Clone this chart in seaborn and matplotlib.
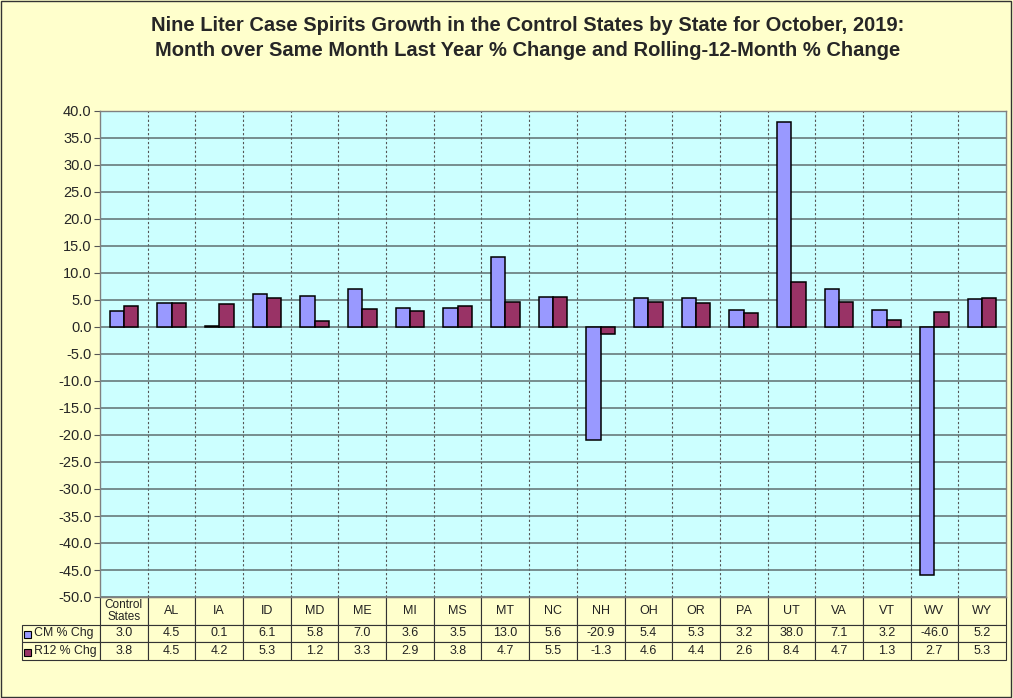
import pandas as pd
import seaborn as sns
import matplotlib.pyplot as plt
from matplotlib.patches import Rectangle

# data
states = ["Control\nStates", "AL", "IA", "ID", "MD", "ME", "MI", "MS", "MT", "NC",
          "NH", "OH", "OR", "PA", "UT", "VA", "VT", "WV", "WY"]
cm_chg = [3.0, 4.5, 0.1, 6.1, 5.8, 7.0, 3.6, 3.5, 13.0, 5.6,
          -20.9, 5.4, 5.3, 3.2, 38.0, 7.1, 3.2, -46.0, 5.2]
r12_chg = [3.8, 4.5, 4.2, 5.3, 1.2, 3.3, 2.9, 3.8, 4.7, 5.5,
           -1.3, 4.6, 4.4, 2.6, 8.4, 4.7, 1.3, 2.7, 5.3]
series_names = ["CM % Chg", "R12 % Chg"]
series_colors = ["#9999FF", "#993366"]

df = pd.DataFrame({"state": states * 2,
                   "value": cm_chg + r12_chg,
                   "series": [series_names[0]] * len(states) + [series_names[1]] * len(states)})

sns.set_style("white")
plt.rcParams["font.family"] = ["Liberation Sans", "DejaVu Sans"]

fig = plt.figure(figsize=(10.13, 6.98), dpi=100, facecolor="#FFFFCC")
ax = fig.add_axes([100 / 1013, 1 - 597 / 698, 906 / 1013, 486 / 698])
ax.set_facecolor("#CCFFFF")

sns.barplot(data=df, x="state", y="value", hue="series", palette=series_colors,
            width=0.6, edgecolor="black", linewidth=1.1, saturation=1,
            legend=False, ax=ax, zorder=3)

ax.set_ylim(-50, 40)
ax.set_xlim(-0.5, len(states) - 0.5)
ax.set_yticks(range(-50, 41, 5))
ax.set_yticklabels([f"{v:.1f}" for v in range(-50, 41, 5)], fontsize=10.5)
ax.tick_params(axis="y", direction="out", length=4, width=0.8, color="#555555", pad=2, left=True)
ax.set_xticks([])
ax.set_xticks([i + 0.5 for i in range(len(states) - 1)], minor=True)
ax.tick_params(axis="x", which="minor", length=0)
ax.grid(axis="y", color="#5F6F70", linewidth=1.1, zorder=1)
ax.grid(axis="x", which="minor", color="#555555", linestyle=(0, (2, 2)), linewidth=0.8, zorder=1)
ax.set_axisbelow(True)
ax.set_xlabel("")
ax.set_ylabel("")
for s in ax.spines.values():
    s.set_color("#808080")
    s.set_linewidth(1.0)

# data table under the plot
cell_text = [[""] + states,
             [series_names[0]] + [f"{v:.1f}" for v in cm_chg],
             [series_names[1]] + [f"{v:.1f}" for v in r12_chg]]
col_w = [78] + [906 / len(states)] * len(states)
tbl = ax.table(cellText=cell_text, colWidths=col_w, cellLoc="center",
               bbox=[-78 / 906, -63 / 486, 984 / 906, 63 / 486])
tbl.auto_set_font_size(False)
for (r, c), cell in tbl.get_celld().items():
    cell.set_facecolor("#FFFFCC")
    cell.set_edgecolor("#333333")
    cell.set_linewidth(0.8)
    cell.set_height(28 if r == 0 else 18)
    txt = cell.get_text()
    txt.set_fontsize(9)
    txt.set_color("#222222")
    if r == 0 and c == 0:
        cell.visible_edges = ""
    if r == 0 and c == 1:
        txt.set_fontsize(8.5)
        txt.set_linespacing(0.95)
    if r > 0 and c == 0:
        txt.set_ha("left")
        txt.set_fontsize(8.8)
        txt.set_text("   " + cell_text[r][0])
        cell.PAD = 0.02

# small legend keys inside row labels
for i, col in enumerate(series_colors):
    yc = (597 - (634 + 18 * i)) / 486
    ax.add_patch(Rectangle((-76.5 / 906, yc - 3.5 / 486), 7 / 906, 7 / 486,
                           transform=ax.transAxes, facecolor=col, edgecolor="black",
                           linewidth=0.8, clip_on=False, zorder=5))

fig.text(0.521, 0.977, "Nine Liter Case Spirits Growth in the Control States by State for October, 2019:\n"
         "Month over Same Month Last Year % Change and Rolling-12-Month % Change",
         ha="center", va="top", fontsize=14.5, fontweight="bold", linespacing=1.4)

fig.patches.append(Rectangle((0.001, 0.001), 0.997, 0.997, transform=fig.transFigure,
                             fill=False, edgecolor="#333333", linewidth=1))

fig.savefig("out.png", dpi=100, facecolor=fig.get_facecolor())
